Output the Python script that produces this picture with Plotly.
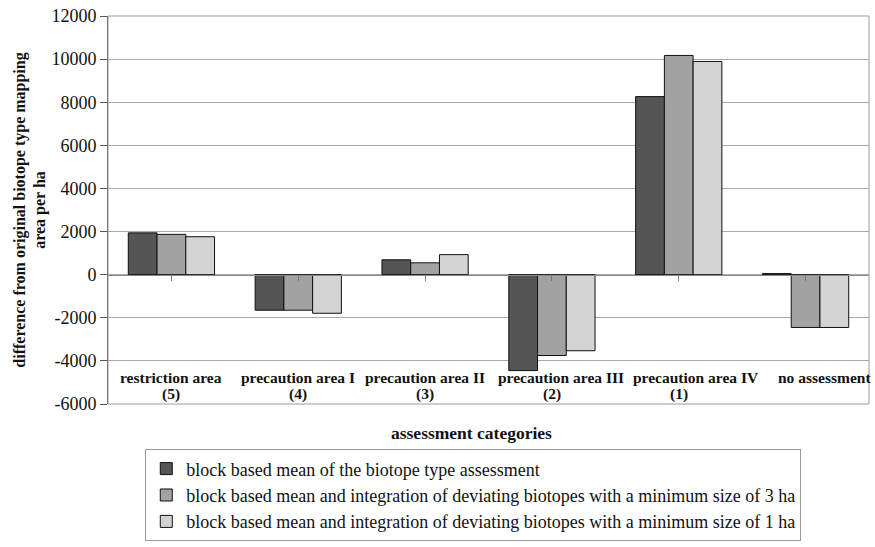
import plotly.graph_objects as go

category_names = ["restriction area", "precaution area I", "precaution area II",
                  "precaution area III", "precaution area IV", "no assessment"]
category_codes = ["(5)", "(4)", "(3)", "(2)", "(1)", ""]
series_names = [
    "block based mean of the biotope type assessment",
    "block based mean and integration of deviating biotopes with a minimum size of 3 ha",
    "block based mean and integration of deviating biotopes with a minimum size of 1 ha",
]
block_mean = [1940, -1650, 690, -4450, 8260, 50]
min_3ha = [1870, -1650, 550, -3750, 10170, -2450]
min_1ha = [1760, -1790, 930, -3530, 9890, -2450]
colors = ["#555555", "#a2a2a2", "#d4d4d4"]
y_range = [-6000, 12000]
y_ticks = list(range(-6000, 12001, 2000))
y_ticktext = [str(v) for v in y_ticks]

serif = "Liberation Serif"
x_idx = list(range(len(category_names)))

# horizontal nudges (px) so the long labels on the right don't collide
label_nudge = [0, 0, 0, 9, 17, 19]

fig = go.Figure()
for k, (name, vals, col) in enumerate(zip(series_names, [block_mean, min_3ha, min_1ha], colors)):
    fig.add_trace(go.Bar(x=x_idx, y=vals, name=name, marker_color=col, legendgroup=f"g{k}",
                         marker_line_color="#111111", marker_line_width=1))

# category names and codes along the bottom edge of the plot area
for i, (nm, code) in enumerate(zip(category_names, category_codes)):
    fig.add_annotation(x=i, y=y_range[0], xref="x", yref="y", text=f"<b>{nm}</b>", showarrow=False,
                       yanchor="bottom", yshift=16, xshift=label_nudge[i],
                       font=dict(family=serif, size=15.5, color="#111111"))
    if code:
        fig.add_annotation(x=i, y=y_range[0], xref="x", yref="y", text=f"<b>{code}</b>", showarrow=False,
                           yanchor="bottom", yshift=-1, font=dict(family=serif, size=15.5, color="#111111"))

fig.add_annotation(x=0.478, y=-0.074, xref="paper", yref="paper", text="<b>assessment categories</b>",
                   showarrow=False, yanchor="middle", font=dict(family=serif, size=17.5, color="#111111"))

# frame around the plot area
fig.add_shape(type="rect", xref="paper", yref="paper", x0=0, x1=1, y0=0, y1=1,
              line=dict(color="#9a9a9a", width=1), layer="above")

zero_pos = (0 - y_range[0]) / (y_range[1] - y_range[0])

fig.update_layout(
    width=875, height=547,
    margin=dict(l=108, r=6, t=14, b=141),
    paper_bgcolor="white", plot_bgcolor="white",
    barmode="group", bargap=0.32, bargroupgap=0,
    font=dict(family=serif, size=16, color="#111111"),
    xaxis=dict(range=[-0.5, len(category_names) - 0.5], tickmode="array", tickvals=x_idx,
               showticklabels=False, ticks="outside", tickson="boundaries", ticklen=5,
               tickcolor="#777777", showline=True, linecolor="#888888", linewidth=1,
               showgrid=False, zeroline=False, anchor="free", position=zero_pos),
    yaxis=dict(range=y_range, tickmode="array", tickvals=y_ticks, ticktext=y_ticktext,
               ticks="outside", ticklen=7, tickcolor="#555555",
               showline=True, linecolor="#555555", linewidth=1,
               showgrid=True, gridcolor="#a8a8a8", gridwidth=1, zeroline=False,
               tickfont=dict(family=serif, size=18, color="#111111"),
               title=dict(text="<b>difference from original biotope type mapping<br>area per ha</b>",
                          font=dict(family=serif, size=16, color="#111111"), standoff=1)),
    legend=dict(x=0.049, y=-0.117, xanchor="left", yanchor="top", itemwidth=30,
                tracegroupgap=0, bordercolor="#9a9a9a", borderwidth=1, bgcolor="white",
                font=dict(family=serif, size=18, color="#111111")),
    showlegend=True,
)

fig.write_html("out.html")
